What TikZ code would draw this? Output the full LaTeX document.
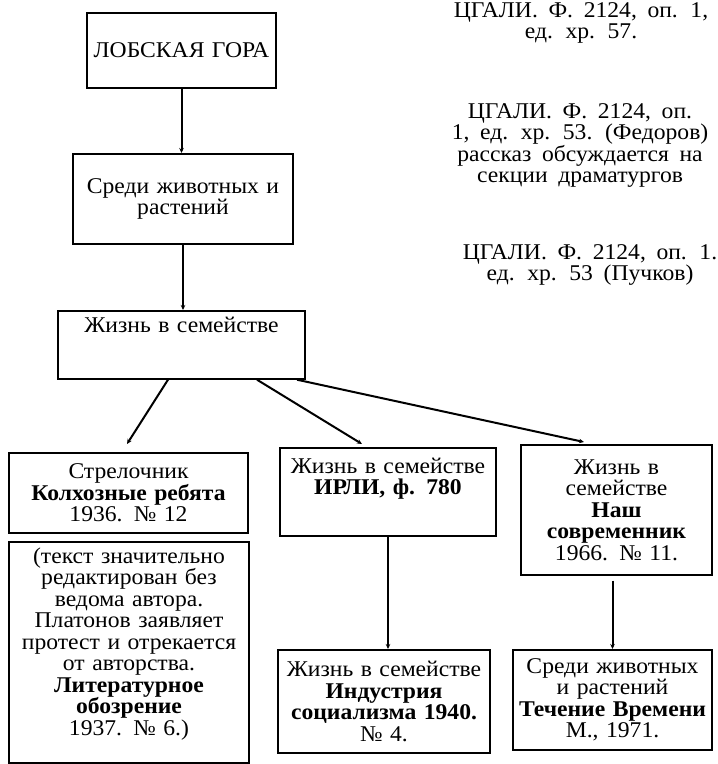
\documentclass[tikz,border=0pt]{standalone}
\usepackage{fontspec}
\setmainfont{Liberation Serif}[WordSpace=1.8, FakeStretch=1.05]
\usetikzlibrary{arrows.meta}
\begin{document}
\begin{tikzpicture}[x=1pt, y=1pt,
    box/.style={draw, line width=1.7pt, inner xsep=2pt, inner ysep=0pt, align=center, anchor=north, font=\fontsize{22.5}{21.5}\selectfont},
    note/.style={inner sep=0pt, align=center, anchor=north, font=\fontsize{22.5}{21.5}\selectfont},
    conn/.style={line width=2pt, -{Stealth[length=5pt, width=4.5pt]}}]
    \useasboundingbox (0,0) rectangle (718,-764);

    % left column
    \node[box, text width=185, minimum height=75] (gora) at (181.5,-12) {ЛОБСКАЯ ГОРА};
    \node[box, text width=216, minimum height=90] (sredi) at (183,-153) {Среди животных и\\ растений};
    \node[box, text width=243, minimum height=68] (semya) at (181.5,-310) {Жизнь в семействе\\[18pt]\mbox{}};

    % archive notes
    \node[note] (arh1) at (581,-2) {ЦГАЛИ. Ф. 2124, оп. 1,\\ ед. хр. 57.};
    \node[note] (arh2) at (580,-103) {ЦГАЛИ. Ф. 2124, оп.\\ 1, ед. хр. 53. (Федоров)\\ рассказ обсуждается на\\ секции драматургов};
    \node[note] (arh3) at (590,-244) {ЦГАЛИ. Ф. 2124, оп. 1.\\ ед. хр. 53 (Пучков)};

    % publications
    \node[box, text width=235, minimum height=80] (strel) at (128.5,-452) {Стрелочник\\ \textbf{Колхозные ребята}\\ 1936. № 12};
    \node[box, text width=236, minimum height=221] (protest) at (129,-541) {(текст значительно\\ редактирован без\\ ведома автора.\\ Платонов заявляет\\ протест и отрекается\\ от авторства.\\ \textbf{Литературное}\\ \textbf{обозрение}\\ 1937. № 6.)\\ \mbox{}};
    \node[box, text width=212, minimum height=88] (irli) at (388,-447) {Жизнь в семействе\\ \textbf{ИРЛИ, ф. 780}\\[10pt]\mbox{}};
    \node[box, text width=187, minimum height=130] (nash) at (616.5,-444) {Жизнь в\\ семействе\\ \textbf{Наш}\\ \textbf{современник}\\ 1966. № 11.};
    \node[box, text width=208, minimum height=103] (industr) at (384,-649) {Жизнь в семействе\\ \textbf{Индустрия}\\ \textbf{социализма 1940.}\\ № 4.};
    \node[box, text width=195, minimum height=100] (sredi2) at (612.5,-649) {Среди животных\\ и растений\\ \textbf{Течение Времени}\\ М., 1971.};

    \draw[conn] (gora.south) -- (gora.south |- sredi.north);
    \draw[conn] (sredi.south) -- (sredi.south |- semya.north);
    \draw[conn] ([xshift=-13.5pt]semya.south) -- ([xshift=-1.5pt, yshift=8pt]strel.north);
    \draw[conn] ([xshift=75.5pt]semya.south) -- ([xshift=-26pt, yshift=3pt]irli.north);
    \draw[conn] ([xshift=115.5pt]semya.south) -- ([xshift=-32.5pt, yshift=2pt]nash.north);
    \draw[conn] (irli.south) -- (irli.south |- industr.north);
    \draw[conn, shorten <=5pt] (sredi2.north |- nash.south) -- (sredi2.north);
\end{tikzpicture}
\end{document}
